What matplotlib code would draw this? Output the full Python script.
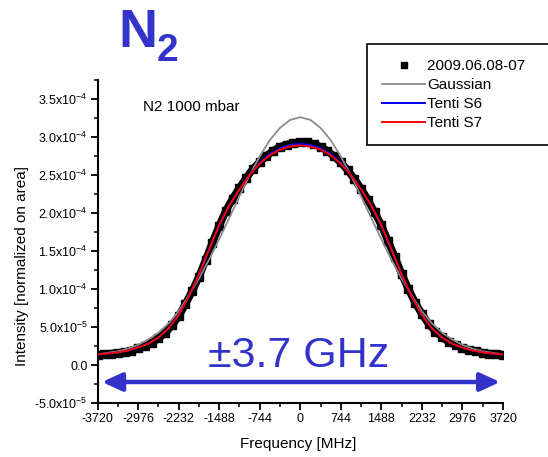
import numpy as np
import matplotlib
matplotlib.use("Agg")
from matplotlib import pyplot as plt
from matplotlib.ticker import FixedLocator, MultipleLocator

plt.rcParams['font.family'] = ['Liberation Sans', 'DejaVu Sans']
plt.rcParams['mathtext.fontset'] = 'custom'
plt.rcParams['mathtext.rm'] = 'Liberation Sans'
plt.rcParams['mathtext.it'] = 'Liberation Sans:italic'
plt.rcParams['mathtext.bf'] = 'Liberation Sans:bold'
plt.rcParams['axes.unicode_minus'] = False

SCALE = 1e-4  # intensities below are in units of 1e-4

# measured spectrum, 124 MHz spacing
freq_data = np.arange(-3720, 3721, 124)
intensity_data = [0.13, 0.14, 0.15, 0.16, 0.17, 0.19, 0.22, 0.25, 0.29, 0.35,
                  0.42, 0.52, 0.64, 0.80, 0.97, 1.16, 1.38, 1.61, 1.83, 2.03,
                  2.19, 2.33, 2.46, 2.58, 2.67, 2.75, 2.82, 2.87, 2.90, 2.92,
                  2.93,
                  2.93, 2.905, 2.87, 2.82, 2.745, 2.665, 2.565, 2.45, 2.32, 2.175,
                  2.01, 1.84, 1.63, 1.42, 1.20, 1.00, 0.82, 0.67, 0.54, 0.44,
                  0.37, 0.30, 0.26, 0.22, 0.20, 0.18, 0.16, 0.15, 0.14, 0.135]

# model curves, 186 MHz spacing
freq_fit = np.arange(-3720, 3721, 186)
gaussian = [0.14, 0.16, 0.18, 0.215, 0.265, 0.335, 0.425, 0.545, 0.705, 0.915,
            1.135, 1.385, 1.655, 1.935, 2.22, 2.495, 2.745, 2.96, 3.12, 3.225,
            3.26,
            3.225, 3.12, 2.96, 2.745, 2.495, 2.22, 1.935, 1.655, 1.385, 1.135,
            0.915, 0.705, 0.545, 0.425, 0.335, 0.265, 0.215, 0.18, 0.16, 0.14]
tenti_s6 = [0.14, 0.15, 0.165, 0.19, 0.23, 0.28, 0.36, 0.48, 0.66, 0.895,
            1.18, 1.51, 1.83, 2.095, 2.31, 2.505, 2.66, 2.775, 2.85, 2.895,
            2.91,
            2.895, 2.85, 2.775, 2.66, 2.505, 2.31, 2.095, 1.83, 1.51, 1.18,
            0.895, 0.66, 0.48, 0.36, 0.28, 0.23, 0.19, 0.165, 0.15, 0.14]
tenti_s7 = [0.14, 0.15, 0.165, 0.19, 0.23, 0.28, 0.36, 0.48, 0.66, 0.90,
            1.19, 1.52, 1.84, 2.10, 2.31, 2.50, 2.65, 2.76, 2.835, 2.875,
            2.89,
            2.875, 2.835, 2.76, 2.65, 2.50, 2.31, 2.10, 1.84, 1.52, 1.19,
            0.90, 0.66, 0.48, 0.36, 0.28, 0.23, 0.19, 0.165, 0.15, 0.14]

xticks = [-3720, -2976, -2232, -1488, -744, 0, 744, 1488, 2232, 2976, 3720]
yticks = [-5e-5, 0, 5e-5, 1e-4, 1.5e-4, 2e-4, 2.5e-4, 3e-4, 3.5e-4]
ytick_labels = ["-5.0x10$^{-5}$", "0.0", "5.0x10$^{-5}$", "1.0x10$^{-4}$",
                "1.5x10$^{-4}$", "2.0x10$^{-4}$", "2.5x10$^{-4}$",
                "3.0x10$^{-4}$", "3.5x10$^{-4}$"]

blue = "#3333cc"

fig = plt.figure(figsize=(5.48, 4.57), dpi=100)
ax = fig.add_axes([97.5 / 548, 54 / 457, 405.5 / 548, 323 / 457])

d = np.array(intensity_data) * SCALE
ax.plot(freq_data, d, color="black", lw=5.5, solid_joinstyle="round", zorder=2)
ax.plot(freq_data, d, ls="none", marker="s", ms=5.5, color="black",
        label="2009.06.08-07     ", zorder=2)
ax.plot(freq_fit, np.array(gaussian) * SCALE, color="#8c8c8c", lw=1.3,
        label="Gaussian", zorder=3)
ax.plot(freq_fit, np.array(tenti_s6) * SCALE, color="#0000ff", lw=1.4,
        label="Tenti S6", zorder=4)
ax.plot(freq_fit, np.array(tenti_s7) * SCALE, color="#ff0000", lw=1.4,
        label="Tenti S7", zorder=5)

ax.set_xlim(-3720, 3720)
ax.set_ylim(-5e-5, 3.75e-4)
ax.xaxis.set_major_locator(FixedLocator(xticks))
ax.xaxis.set_minor_locator(MultipleLocator(372))
ax.set_xticklabels([str(t) for t in xticks])
ax.yaxis.set_major_locator(FixedLocator(yticks))
ax.yaxis.set_minor_locator(MultipleLocator(2.5e-5))
ax.set_yticklabels(ytick_labels)

for side in ("top", "right"):
    ax.spines[side].set_visible(False)
for side in ("left", "bottom"):
    ax.spines[side].set_linewidth(1.5)
ax.tick_params(which="major", direction="out", length=5, width=1.3, labelsize=9, pad=2)
ax.tick_params(which="minor", direction="out", length=3, width=1.1)

ax.set_xlabel("Frequency [MHz]", fontsize=11)
ax.set_ylabel("Intensity [normalized on area]", fontsize=11)
ax.xaxis.set_label_coords(0.495, -0.105)
ax.yaxis.set_label_coords(-0.17, 0.424)

ax.text(143 / 548, 1 - 111 / 457, "N2 1000 mbar", transform=fig.transFigure,
        fontsize=11, va="baseline", ha="left")

# double arrow spanning the line width
ax.annotate("", xy=(0.993, 0.065), xytext=(0.011, 0.065), xycoords="axes fraction",
            arrowprops=dict(arrowstyle="<|-|>,head_length=1.2,head_width=0.55",
                            color=blue, lw=3.2, shrinkA=0, shrinkB=0))
fig.text(208 / 548, 1 - 367 / 457, "\u00b13.7 GHz", color=blue, fontsize=31,
         va="baseline", ha="left")

fig.text(118 / 548, 1 - 47 / 457, "N", color=blue, fontsize=39,
         fontweight="bold", va="baseline", ha="left")
fig.text(157 / 548, 1 - 61 / 457, "2", color=blue, fontsize=28,
         fontweight="bold", va="baseline", ha="left")

leg = ax.legend(loc="upper left", bbox_to_anchor=(367 / 548, 1 - 44 / 457),
                bbox_transform=fig.transFigure, fontsize=11, frameon=True,
                fancybox=False, framealpha=1, edgecolor="black",
                handlelength=2.8, handletextpad=0.15, labelspacing=0.32,
                borderpad=1.0, borderaxespad=0, markerscale=0.8)
leg.get_frame().set_linewidth(1.2)

fig.savefig("out.png", dpi=100)
